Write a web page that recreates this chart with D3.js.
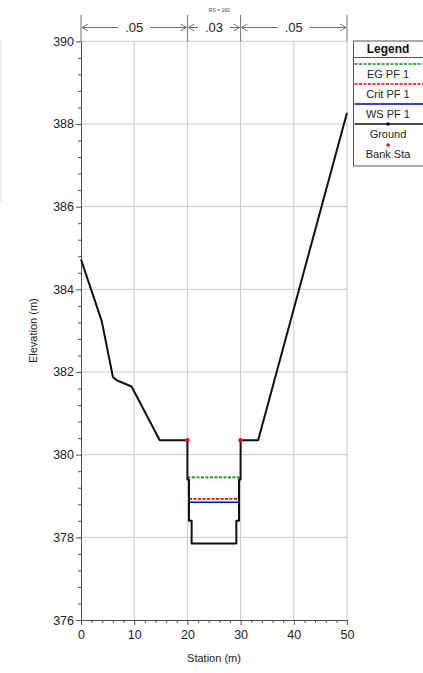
<!DOCTYPE html>
<html>
<head>
<meta charset="utf-8">
<script src="https://cdn.jsdelivr.net/npm/d3@7"></script>
<style>
  html, body { margin: 0; padding: 0; background: #fff; }
  svg { display: block; font-family: "Liberation Sans", Arial, sans-serif; }
</style>
</head>
<body>
<svg id="chart" width="423" height="673"></svg>
<script>
// Cross section RS = 160: ground profile (station, elevation)
const groundStation = [0, 3.9, 6.0, 6.7, 9.5, 14.8, 20, 20, 20.3, 20.3, 20.8, 20.8, 29.2, 29.2, 29.7, 29.7, 30, 30, 33.3, 50];
const groundElev    = [384.72, 383.23, 381.88, 381.8, 381.65, 380.35, 380.35, 379.4, 379.4, 378.4, 378.4, 377.85, 377.85, 378.4, 378.4, 379.4, 379.4, 380.35, 380.35, 388.27];

// Bank stations
const bankStation = [20, 30];
const bankElev = [380.35, 380.35];

// Profile water surfaces
const profileNames = ["EG PF 1", "Crit PF 1", "WS PF 1"];
const profileElev = [379.45, 378.93, 378.85];
const profileColors = ["#009000", "#e00000", "#0000c0"];
const profileDash = ["3,1.5", "3,1.5", null];

// Manning's n regions
const nBreaks = [0, 20, 30, 50];
const nValues = [".05", ".03", ".05"];

// Axes
const xTicks = [0, 10, 20, 30, 40, 50];
const yTicks = [376, 378, 380, 382, 384, 386, 388, 390];

const svg = d3.select("#chart");
const x = d3.scaleLinear().domain([0, 50]).range([81, 347]);
const y = d3.scaleLinear().domain([376, 390]).range([620, 41.3]);

// Faint frame at the left edge
svg.append("line").attr("x1", 1).attr("x2", 1).attr("y1", 40).attr("y2", 202)
  .attr("stroke", "#e2e2e2").attr("stroke-width", 1);

// Grid
const grid = svg.append("g").attr("stroke", "#c8c8c8").attr("stroke-width", 1);
grid.selectAll("line.gx").data(xTicks.filter(d => d > 0)).join("line")
  .attr("x1", d => x(d)).attr("x2", d => x(d)).attr("y1", y(390)).attr("y2", y(376));
grid.selectAll("line.gy").data(yTicks.filter(d => d > 376)).join("line")
  .attr("x1", x(0)).attr("x2", x(50)).attr("y1", d => y(d)).attr("y2", d => y(d));

// Minor ticks
const yMinor = d3.range(376, 390.001, 0.4).filter(v => Math.abs(v - Math.round(v / 2) * 2) > 0.01);
const xMinor = d3.range(0, 50.001, 2).filter(v => v % 10 !== 0);

const axisColor = "#505050";
const gx = svg.append("g").attr("transform", `translate(0,${y(376)})`);
gx.call(d3.axisBottom(x).tickValues(xMinor).tickSize(3).tickFormat(""));
gx.call(g => g.select(".domain").remove());
const gx2 = svg.append("g").attr("transform", `translate(0,${y(376)})`);
gx2.call(d3.axisBottom(x).tickValues(xTicks).tickSize(5).tickSizeOuter(0).tickFormat(d3.format("d")));
[gx, gx2].forEach(g => {
  g.selectAll("line").attr("stroke", axisColor);
  g.selectAll("path").attr("stroke", axisColor);
  g.selectAll("text").attr("font-size", 12.5).attr("fill", "#222").attr("dy", "0.85em")
    .attr("font-family", "Liberation Sans, Arial, sans-serif");
});

const gy = svg.append("g").attr("transform", `translate(${x(0)},0)`);
gy.call(d3.axisLeft(y).tickValues(yMinor).tickSize(3).tickFormat(""));
gy.call(g => g.select(".domain").remove());
const gy2 = svg.append("g").attr("transform", `translate(${x(0)},0)`);
gy2.call(d3.axisLeft(y).tickValues(yTicks).tickSize(5).tickSizeOuter(0).tickFormat(d3.format("d")));
[gy, gy2].forEach(g => {
  g.selectAll("line").attr("stroke", axisColor);
  g.selectAll("path").attr("stroke", axisColor);
  g.selectAll("text").attr("font-size", 12.5).attr("fill", "#222").attr("x", -7)
    .attr("font-family", "Liberation Sans, Arial, sans-serif");
});

// Axis titles
svg.append("text").attr("x", x(25)).attr("y", 662).attr("text-anchor", "middle")
  .attr("font-size", 11).attr("fill", "#222").text("Station (m)");
svg.append("text").attr("transform", `translate(37,${y(383)}) rotate(-90)`)
  .attr("text-anchor", "middle").attr("font-size", 11).attr("fill", "#222").text("Elevation (m)");

// Manning's n annotation above the plot
const nTop = 15, nArrowY = 27.5;
const ann = svg.append("g").attr("stroke", "#707070").attr("fill", "none").attr("stroke-width", 1);
ann.selectAll("line.nb").data(nBreaks).join("line")
  .attr("x1", d => x(d)).attr("x2", d => x(d)).attr("y1", nTop).attr("y2", y(390));
nValues.forEach((v, i) => {
  const a = x(nBreaks[i]) + 1, b = x(nBreaks[i + 1]) - 1, m = (a + b) / 2;
  const half = v.length * 4 + 4;
  ann.append("line").attr("x1", a).attr("x2", m - half).attr("y1", nArrowY).attr("y2", nArrowY);
  ann.append("line").attr("x1", m + half).attr("x2", b).attr("y1", nArrowY).attr("y2", nArrowY);
  ann.append("path").attr("d", `M${a + 6},${nArrowY - 3.5}L${a},${nArrowY}L${a + 6},${nArrowY + 3.5}`);
  ann.append("path").attr("d", `M${b - 6},${nArrowY - 3.5}L${b},${nArrowY}L${b - 6},${nArrowY + 3.5}`);
  svg.append("text").attr("x", m).attr("y", nArrowY + 4.5).attr("text-anchor", "middle")
    .attr("font-size", 13).attr("fill", "#222").text(v);
});
svg.append("text").attr("x", x(26)).attr("y", 12).attr("text-anchor", "middle")
  .attr("font-size", 5).attr("fill", "#444").text("RS = 160");

// Water surface extents found where the level meets the ground inside the channel
const groundPts = groundStation.map((s, i) => [s, groundElev[i]]);
const minIdx = d3.minIndex(groundElev);
function waterExtent(level) {
  let left = groundPts[0][0], right = groundPts[groundPts.length - 1][0];
  for (let i = minIdx; i > 0; i--) {
    const [s0, e0] = groundPts[i - 1], [s1, e1] = groundPts[i];
    if (e0 >= level && e1 < level) { left = s0 + (level - e0) * (s1 - s0) / (e1 - e0); break; }
  }
  for (let i = minIdx; i < groundPts.length - 1; i++) {
    const [s0, e0] = groundPts[i], [s1, e1] = groundPts[i + 1];
    if (e0 < level && e1 >= level) { right = s0 + (level - e0) * (s1 - s0) / (e1 - e0); break; }
  }
  return [left, right];
}

profileElev.forEach((lev, i) => {
  const [l, r] = waterExtent(lev);
  svg.append("line").attr("x1", x(l)).attr("x2", x(r)).attr("y1", y(lev)).attr("y2", y(lev))
    .attr("stroke", profileColors[i]).attr("stroke-width", 1.6)
    .attr("stroke-dasharray", profileDash[i]);
});

// Ground
const line = d3.line().x(d => x(d[0])).y(d => y(d[1]));
svg.append("path").datum(groundPts).attr("d", line)
  .attr("fill", "none").attr("stroke", "#111").attr("stroke-width", 2).attr("stroke-linejoin", "round");

// Bank stations
svg.selectAll("circle.bank").data(bankStation).join("circle")
  .attr("cx", d => x(d)).attr("cy", (d, i) => y(bankElev[i])).attr("r", 2.2).attr("fill", "#e01010");

// Legend
const lg = svg.append("g");
const lx = 353.5, ly = 41, lw = 80, lh = 125;
lg.append("rect").attr("x", lx).attr("y", ly).attr("width", lw).attr("height", lh)
  .attr("fill", "#fff").attr("stroke", "#555").attr("stroke-width", 1);
lg.append("text").attr("x", 388).attr("y", ly + 12).attr("text-anchor", "middle")
  .attr("font-size", 12).attr("font-weight", "bold").attr("fill", "#111").text("Legend");
lg.append("line").attr("x1", lx).attr("x2", 423).attr("y1", ly + 16.5).attr("y2", ly + 16.5)
  .attr("stroke", "#555");
const rowY = i => ly + 23 + i * 20;
profileNames.forEach((n, i) => {
  lg.append("line").attr("x1", lx + 1).attr("x2", 423).attr("y1", rowY(i)).attr("y2", rowY(i))
    .attr("stroke", profileColors[i]).attr("stroke-width", 1.6).attr("stroke-dasharray", profileDash[i]);
  lg.append("text").attr("x", 388).attr("y", rowY(i) + 14).attr("text-anchor", "middle")
    .attr("font-size", 11).attr("fill", "#222").text(n);
});
lg.append("line").attr("x1", lx + 1).attr("x2", 423).attr("y1", rowY(3)).attr("y2", rowY(3))
  .attr("stroke", "#111").attr("stroke-width", 1.6);
lg.append("rect").attr("x", 386.5).attr("y", rowY(3) - 1.5).attr("width", 3).attr("height", 3).attr("fill", "#111");
lg.append("text").attr("x", 388).attr("y", rowY(3) + 14).attr("text-anchor", "middle")
  .attr("font-size", 11).attr("fill", "#222").text("Ground");
lg.append("circle").attr("cx", 388).attr("cy", rowY(4) + 1).attr("r", 1.8).attr("fill", "#e01010");
lg.append("text").attr("x", 388).attr("y", rowY(4) + 14).attr("text-anchor", "middle")
  .attr("font-size", 11).attr("fill", "#222").text("Bank Sta");
</script>
</body>
</html>
